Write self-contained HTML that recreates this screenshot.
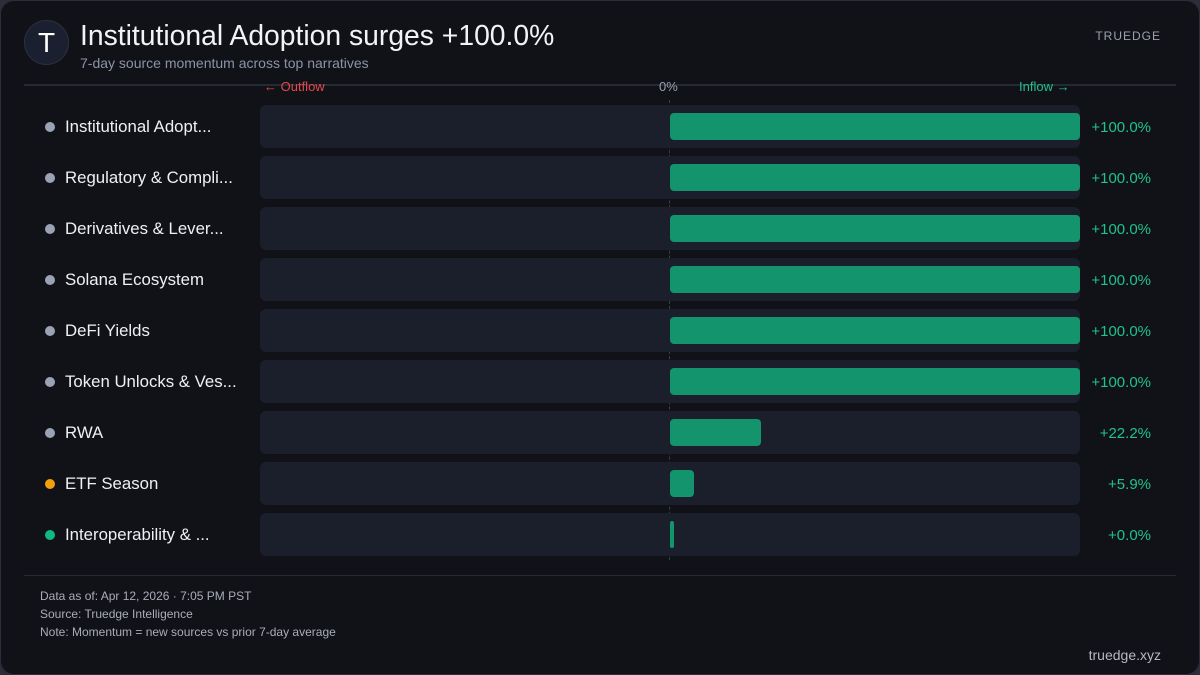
<!DOCTYPE html>
<html><head><meta charset="utf-8"><style>
*{margin:0;padding:0;box-sizing:border-box}
body{width:1200px;height:675px;background:#2b2e38;font-family:"Liberation Sans",sans-serif;overflow:hidden}
.card{position:absolute;left:0;top:0;width:1200px;height:675px;background:#111217;box-shadow:inset 0 0 0 1px #2c2f3a;border-radius:14px}
.abs{position:absolute;white-space:nowrap}
.logo{left:24px;top:20px;width:45px;height:45px;border-radius:50%;background:#1b2030;border:1px solid #2a3040;color:#fff;font-size:28px;text-align:center;line-height:43px}
.track{position:absolute;left:260px;width:820px;height:43px;background:#1b1f2c;border-radius:6px}
.bar{position:absolute;left:670px;height:27px;background:#13946d;border-radius:4px}
.dot{position:absolute;left:45px;width:10px;height:10px;border-radius:50%}
.lab{position:absolute;left:65px;color:#eef0f4;font-size:16.8px}
.val{position:absolute;right:49px;color:#1fc28b;font-size:15px;text-align:right}
.foot{color:#a9adb8;font-size:12px;left:40px}
</style></head><body><div class="card">
<div class="abs logo">T</div>
<div class="abs" style="left:80px;top:19px;color:#f2f3f6;font-size:28.3px">Institutional Adoption surges +100.0%</div>
<div class="abs" style="left:80px;top:55px;color:#8b93a8;font-size:14px">7-day source momentum across top narratives</div>
<div class="abs" style="right:39px;top:29px;color:#9aa0ae;font-size:12px;letter-spacing:1px">TRUEDGE</div>
<div class="abs" style="left:24px;top:84px;width:1152px;height:2px;background:#262a36"></div>
<div class="abs" style="left:264px;top:79px;color:#e5484d;font-size:13px">← Outflow</div>
<div class="abs" style="left:659px;top:79px;color:#9aa0ae;font-size:13px">0%</div>
<div class="abs" style="left:1019px;top:79px;color:#1fc28b;font-size:13px">Inflow →</div>
<div class="abs" style="left:669px;top:100px;height:460px;border-left:1px dashed #3a3f4d"></div>
<div id="rows"></div>
<div class="abs" style="left:24px;top:575px;width:1152px;height:1px;background:#262a36"></div>
<div class="abs foot" style="top:589px">Data as of: Apr 12, 2026 · 7:05 PM PST</div>
<div class="abs foot" style="top:607px">Source: Truedge Intelligence</div>
<div class="abs foot" style="top:625px">Note: Momentum = new sources vs prior 7-day average</div>
<div class="abs" style="right:39px;top:647px;color:#b4b8c2;font-size:14px">truedge.xyz</div>
</div>
<script>
var d=[["Institutional Adopt...",410,"+100.0%","#9aa3b5"],["Regulatory & Compli...",410,"+100.0%","#9aa3b5"],["Derivatives & Lever...",410,"+100.0%","#9aa3b5"],["Solana Ecosystem",410,"+100.0%","#9aa3b5"],["DeFi Yields",410,"+100.0%","#9aa3b5"],["Token Unlocks & Ves...",410,"+100.0%","#9aa3b5"],["RWA",91,"+22.2%","#9aa3b5"],["ETF Season",24,"+5.9%","#f59e0b"],["Interoperability & ...",4,"+0.0%","#10b981"]];
var h="";d.forEach(function(r,i){var t=105+51*i;
h+='<div class="track" style="top:'+t+'px"></div><div class="bar" style="top:'+(t+8)+'px;width:'+r[1]+'px"></div><div class="dot" style="top:'+(t+17)+'px;background:'+r[3]+'"></div><div class="lab" style="top:'+(t+12)+'px">'+r[0].replace(/&/g,"&amp;")+'</div><div class="val" style="top:'+(t+14)+'px">'+r[2]+'</div>';});
document.getElementById("rows").outerHTML=h;
</script>
</body></html>
